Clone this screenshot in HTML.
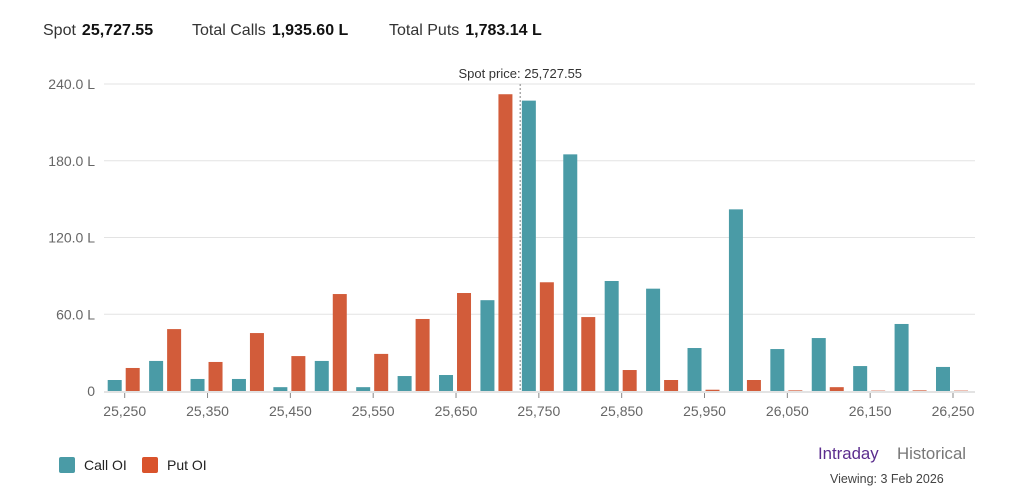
<!DOCTYPE html>
<html><head><meta charset="utf-8">
<style>
body{margin:0;width:1021px;height:496px;background:#fff;font-family:"Liberation Sans",sans-serif;overflow:hidden;position:relative}
.hdr{position:absolute;top:22px;font-size:16px;color:#333}
.hdr b{color:#111;margin-left:6px}
svg{position:absolute;left:0;top:0}
.leg{position:absolute;top:457px;font-size:14px;color:#222;display:flex;align-items:center}
.sw{width:16px;height:16px;border-radius:2px;margin-right:9px;display:inline-block}
</style></head><body>
<div class="hdr" style="left:43px">Spot<b>25,727.55</b></div>
<div class="hdr" style="left:192px">Total Calls<b>1,935.60 L</b></div>
<div class="hdr" style="left:389px">Total Puts<b>1,783.14 L</b></div>
<svg id="chart" width="1021" height="496"></svg>
<div class="leg" style="left:59px"><span class="sw" style="background:#4a9ba6"></span>Call OI</div>
<div class="leg" style="left:142px"><span class="sw" style="background:#d9532c"></span>Put OI</div>
<div style="position:absolute;left:818px;top:444px;font-size:16.8px;color:#5b2d8e">Intraday</div>
<div style="position:absolute;left:897px;top:444px;font-size:16.8px;color:#777">Historical</div>
<div style="position:absolute;left:830px;top:472px;font-size:12.5px;color:#444">Viewing: 3 Feb 2026</div>
<script>
const strikes=[25250,25300,25350,25400,25450,25500,25550,25600,25650,25700,25750,25800,25850,25900,25950,26000,26050,26100,26150,26200,26250];
const callOI=[8.6,23.5,9.4,9.4,3,23.5,3,11.7,12.5,71,227,185,86,80,33.6,142,32.8,41.4,19.5,52.4,18.8];
const putOI=[18,48.4,22.7,45.3,27.3,75.8,29,56.3,76.6,232,85,57.8,16.4,8.6,1,8.6,0.5,3,0.3,0.5,0.3];
const yTicks=[0,60,120,180,240];
const yTickLabels=["0","60.0 L","120.0 L","180.0 L","240.0 L"];
const xTickLabels=[25250,25350,25450,25550,25650,25750,25850,25950,26050,26150,26250];
const spot=25727.55;
const svg=document.getElementById('chart');const NS='http://www.w3.org/2000/svg';
const x=v=>124.7+(v-25250)*(953-124.7)/1000;
const y=v=>391-v*(307/240);
function el(t,a){const e=document.createElementNS(NS,t);for(const k in a)e.setAttribute(k,a[k]);svg.appendChild(e);return e;}
yTicks.forEach((t,i)=>{
 if(t>0){const g=el('line',{x1:104,x2:975,y1:y(t),y2:y(t),stroke:'#e3e3e3','stroke-width':1});
 
 }
 const tx=el('text',{x:95,y:y(t)+5,'text-anchor':'end','font-size':14,fill:'#666','font-family':'Liberation Sans, sans-serif'});
 tx.textContent=yTickLabels[i];
 
 
});
strikes.forEach((s,i)=>{
 const c=el('rect',{x:x(s)-17,y:y(callOI[i]),width:14,height:391-y(callOI[i]),fill:'#4a9ba6'});
 
 
 const p=el('rect',{x:x(s)+1,y:y(putOI[i]),width:14,height:391-y(putOI[i]),fill:'#d25c3a'});
 
 
});
const ax=el('line',{x1:104,x2:975,y1:392,y2:392,stroke:'#e3e3e3','stroke-width':2});


xTickLabels.forEach(s=>{
 const tk=el('line',{x1:x(s),x2:x(s),y1:393,y2:398,stroke:'#888','stroke-width':1});
 
 
 const tx=el('text',{x:x(s),y:416,'text-anchor':'middle','font-size':14,fill:'#666','font-family':'Liberation Sans, sans-serif'});
 tx.textContent=s.toLocaleString('en-US');
 
 
});
const sl=el('line',{x1:x(spot),x2:x(spot),y1:84,y2:391,stroke:'#aaa','stroke-width':1.5,'stroke-dasharray':'2,2'});


const st=el('text',{x:x(spot),y:78,'text-anchor':'middle','font-size':13,fill:'#333','font-family':'Liberation Sans, sans-serif'});
st.textContent='Spot price: 25,727.55';


</script>
</body></html>
